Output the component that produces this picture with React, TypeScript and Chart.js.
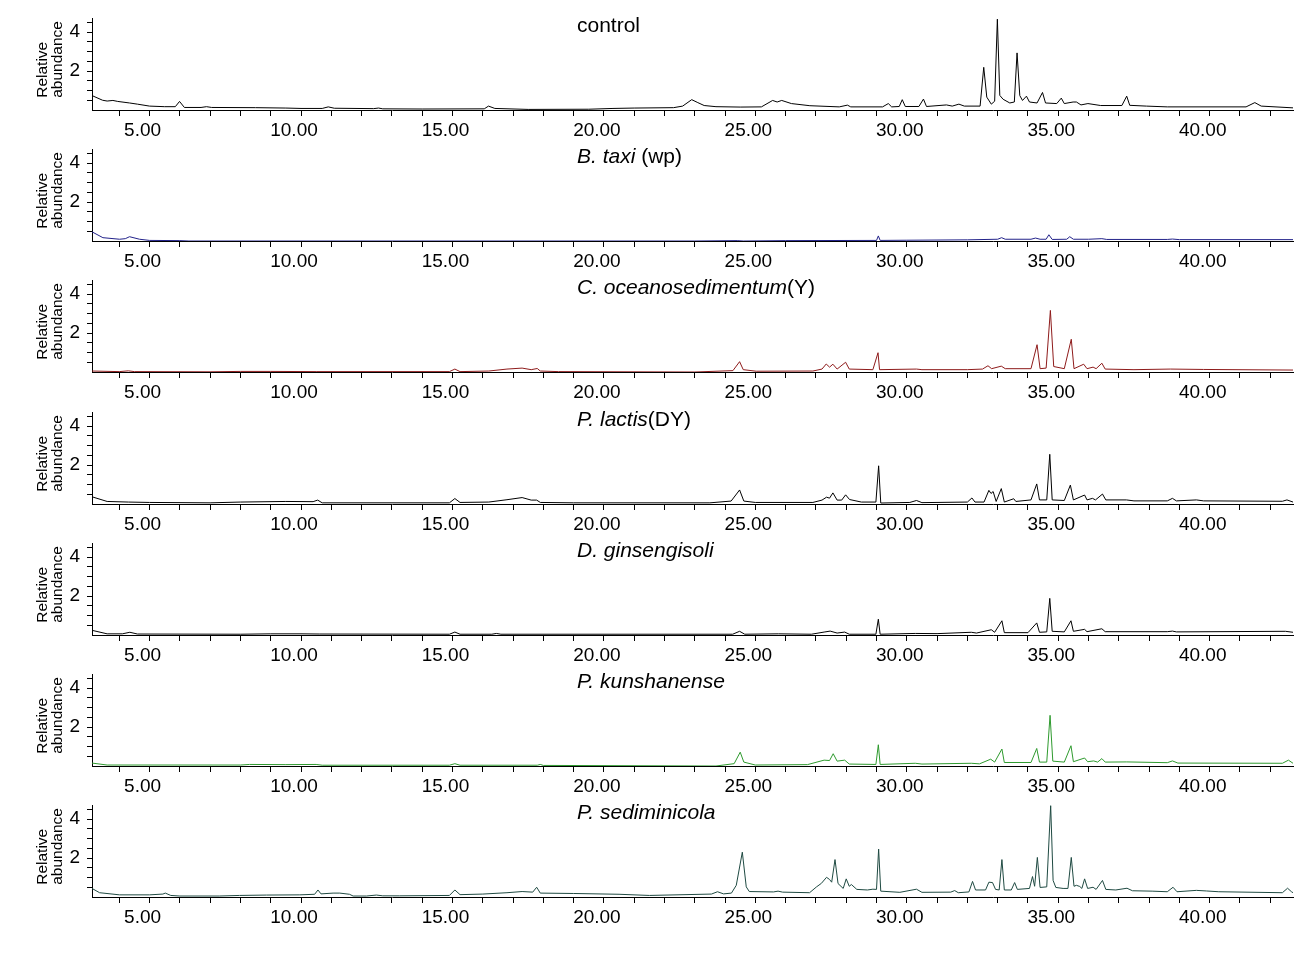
import React, { useEffect, useRef } from 'react';
import { Chart, registerables } from 'chart.js';

Chart.register(...registerables);

// ---------- data (retention time in min, relative abundance) ----------
type Pt = [number, number];

const controlTrace: Pt[] = [
  [3.10,0.74],[3.45,0.50],[3.60,0.46],[3.79,0.49],[3.95,0.44],[4.34,0.36],[4.60,0.30],[5.00,0.20],[5.50,0.17],[5.85,0.17],[5.99,0.44],[6.15,0.13],[6.70,0.13],[6.88,0.17],[7.05,0.13],[8.50,0.12],[9.50,0.10],[10.00,0.08],[10.70,0.08],[10.90,0.16],[11.10,0.09],[12.40,0.07],[12.56,0.10],[12.70,0.06],[14.00,0.05],[16.05,0.06],[16.19,0.20],[16.40,0.08],[17.50,0.03],[19.50,0.04],[20.30,0.08],[21.00,0.10],[22.30,0.12],[22.60,0.20],[22.90,0.53],[23.10,0.38],[23.31,0.23],[23.70,0.17],[24.50,0.15],[25.20,0.16],[25.57,0.49],[25.72,0.41],[25.87,0.49],[26.19,0.33],[26.80,0.22],[27.77,0.16],[28.04,0.25],[28.15,0.16],[29.20,0.16],[29.39,0.33],[29.50,0.16],[29.75,0.18],[29.85,0.53],[29.95,0.18],[30.40,0.18],[30.55,0.56],[30.65,0.18],[31.31,0.26],[31.50,0.20],[31.72,0.30],[31.90,0.20],[32.42,0.20],[32.54,2.19],[32.64,0.66],[32.79,0.30],[32.90,0.45],[32.99,4.66],[33.07,0.75],[33.18,0.55],[33.40,0.36],[33.55,0.41],[33.64,2.93],[33.73,0.74],[33.82,0.49],[33.95,0.71],[34.05,0.41],[34.30,0.36],[34.48,0.90],[34.58,0.36],[34.95,0.33],[35.10,0.61],[35.20,0.33],[35.49,0.41],[35.60,0.41],[35.75,0.26],[35.98,0.33],[36.40,0.23],[37.10,0.23],[37.26,0.71],[37.36,0.24],[37.91,0.20],[38.60,0.16],[41.20,0.16],[41.49,0.38],[41.70,0.20],[42.75,0.11],
];

const taxiTrace: Pt[] = [
  [3.10,0.47],[3.46,0.17],[4.01,0.09],[4.20,0.12],[4.34,0.22],[4.67,0.09],[5.00,0.03],[6.00,0.02],[6.30,0.00],[23.00,0.00],[24.40,0.02],[24.60,0.00],[26.00,0.02],[29.00,0.03],[29.06,0.26],[29.12,0.03],[30.00,0.04],[32.00,0.06],[33.00,0.09],[33.13,0.17],[33.25,0.09],[34.10,0.09],[34.25,0.15],[34.40,0.09],[34.60,0.09],[34.69,0.32],[34.80,0.08],[35.28,0.09],[35.38,0.22],[35.50,0.09],[36.00,0.09],[36.44,0.12],[36.60,0.08],[38.60,0.08],[38.77,0.10],[39.00,0.07],[42.75,0.07],
];

const oceanoTrace: Pt[] = [
  [3.10,0.05],[4.00,0.02],[4.30,0.06],[4.50,0.02],[7.00,0.01],[8.00,0.03],[9.00,0.03],[10.50,0.02],[14.90,0.02],[15.08,0.15],[15.25,0.02],[16.20,0.05],[16.80,0.15],[17.30,0.20],[17.60,0.12],[17.80,0.18],[17.90,0.05],[18.50,0.02],[23.00,0.00],[24.26,0.07],[24.48,0.53],[24.60,0.12],[25.03,0.04],[26.90,0.05],[27.20,0.15],[27.34,0.41],[27.45,0.25],[27.56,0.40],[27.70,0.15],[27.98,0.50],[28.10,0.15],[28.88,0.12],[29.05,0.99],[29.10,0.12],[30.32,0.15],[30.50,0.12],[32.00,0.12],[32.50,0.15],[32.68,0.32],[32.80,0.17],[33.12,0.30],[33.25,0.17],[34.10,0.17],[34.30,1.40],[34.40,0.17],[34.60,0.20],[34.74,3.16],[34.85,0.28],[35.20,0.17],[35.43,1.68],[35.52,0.17],[35.84,0.40],[35.95,0.17],[36.15,0.25],[36.25,0.17],[36.44,0.45],[36.55,0.15],[37.50,0.12],[38.70,0.15],[39.80,0.13],[42.75,0.10],
];

const lactisTrace: Pt[] = [
  [3.10,0.37],[3.60,0.13],[4.30,0.10],[5.00,0.08],[7.00,0.06],[8.00,0.10],[9.50,0.13],[10.40,0.12],[10.55,0.20],[10.70,0.06],[14.90,0.06],[15.08,0.28],[15.25,0.08],[16.20,0.10],[16.80,0.22],[17.30,0.33],[17.60,0.20],[17.78,0.20],[17.90,0.08],[19.00,0.06],[23.50,0.06],[24.20,0.15],[24.48,0.72],[24.62,0.15],[25.00,0.08],[26.90,0.08],[27.20,0.20],[27.35,0.35],[27.45,0.30],[27.56,0.57],[27.70,0.20],[27.85,0.20],[27.98,0.47],[28.11,0.23],[28.50,0.10],[28.98,0.10],[29.07,1.96],[29.14,0.05],[30.10,0.08],[30.32,0.18],[30.50,0.07],[32.00,0.10],[32.15,0.31],[32.25,0.10],[32.55,0.10],[32.71,0.70],[32.78,0.54],[32.85,0.64],[32.95,0.13],[33.12,0.79],[33.22,0.10],[33.53,0.27],[33.60,0.13],[34.10,0.21],[34.29,1.03],[34.38,0.21],[34.62,0.21],[34.72,2.55],[34.80,0.21],[35.20,0.18],[35.40,0.97],[35.50,0.21],[35.87,0.46],[35.95,0.21],[36.13,0.29],[36.23,0.21],[36.46,0.51],[36.57,0.21],[37.25,0.21],[37.50,0.16],[38.60,0.16],[38.77,0.29],[38.90,0.16],[39.56,0.21],[39.80,0.16],[42.40,0.14],[42.55,0.21],[42.75,0.10],
];

const ginsengTrace: Pt[] = [
  [3.10,0.24],[3.60,0.06],[4.10,0.06],[4.35,0.14],[4.60,0.05],[8.00,0.04],[9.00,0.06],[10.00,0.06],[10.60,0.05],[14.90,0.04],[15.08,0.15],[15.25,0.04],[16.30,0.04],[16.45,0.08],[16.60,0.04],[24.25,0.04],[24.48,0.19],[24.65,0.04],[25.76,0.06],[26.85,0.04],[27.27,0.15],[27.47,0.20],[27.70,0.10],[27.95,0.15],[28.10,0.04],[28.98,0.04],[29.06,0.81],[29.12,0.04],[30.28,0.08],[31.00,0.07],[32.13,0.14],[32.30,0.10],[32.79,0.27],[32.90,0.14],[33.14,0.73],[33.22,0.12],[34.00,0.12],[34.29,0.62],[34.38,0.14],[34.62,0.16],[34.72,1.88],[34.80,0.19],[35.20,0.16],[35.42,0.73],[35.50,0.19],[35.87,0.29],[35.95,0.17],[36.44,0.32],[36.55,0.17],[38.60,0.17],[38.77,0.20],[38.90,0.16],[42.50,0.19],[42.75,0.14],
];

const kunshanTrace: Pt[] = [
  [3.10,0.15],[3.60,0.05],[8.00,0.05],[8.30,0.08],[9.50,0.07],[10.50,0.08],[10.70,0.04],[14.90,0.04],[15.08,0.12],[15.25,0.04],[17.80,0.04],[17.90,0.08],[18.00,0.03],[23.70,0.00],[24.30,0.12],[24.50,0.71],[24.62,0.20],[25.00,0.05],[26.72,0.07],[27.27,0.30],[27.45,0.28],[27.57,0.63],[27.70,0.25],[27.95,0.30],[28.10,0.10],[28.98,0.08],[29.06,1.09],[29.12,0.08],[30.28,0.14],[30.50,0.10],[32.13,0.14],[32.40,0.11],[32.77,0.35],[32.90,0.20],[33.14,0.87],[33.22,0.18],[34.10,0.18],[34.29,0.90],[34.38,0.20],[34.62,0.20],[34.73,2.60],[34.82,0.25],[35.20,0.20],[35.42,1.04],[35.50,0.22],[35.87,0.41],[35.97,0.22],[36.17,0.26],[36.30,0.20],[36.44,0.38],[36.55,0.20],[37.26,0.21],[38.60,0.17],[38.77,0.26],[38.95,0.15],[42.40,0.14],[42.60,0.30],[42.75,0.14],
];

const sedimTrace: Pt[] = [
  [3.10,0.44],[3.35,0.22],[4.01,0.11],[5.00,0.11],[5.44,0.15],[5.52,0.20],[5.70,0.08],[6.00,0.05],[7.30,0.05],[7.97,0.08],[8.86,0.10],[9.96,0.11],[10.45,0.14],[10.56,0.36],[10.66,0.16],[11.06,0.20],[11.28,0.20],[11.60,0.14],[11.72,0.05],[12.16,0.05],[12.49,0.10],[12.70,0.06],[13.26,0.06],[14.90,0.08],[15.08,0.36],[15.25,0.12],[16.00,0.15],[16.80,0.22],[17.30,0.28],[17.65,0.25],[17.78,0.50],[17.90,0.20],[19.00,0.18],[20.50,0.14],[21.50,0.08],[23.55,0.15],[23.75,0.27],[23.95,0.16],[24.21,0.20],[24.37,0.60],[24.57,2.30],[24.70,0.52],[24.80,0.28],[25.60,0.26],[25.75,0.30],[25.90,0.25],[26.79,0.22],[27.02,0.52],[27.18,0.70],[27.35,1.01],[27.45,0.90],[27.52,0.76],[27.63,1.92],[27.73,0.69],[27.90,0.44],[28.00,0.93],[28.10,0.55],[28.17,0.64],[28.35,0.39],[28.70,0.36],[28.88,0.40],[29.00,0.39],[29.07,2.46],[29.14,0.30],[29.77,0.24],[30.32,0.40],[30.50,0.24],[31.45,0.25],[31.58,0.33],[31.70,0.22],[32.05,0.26],[32.17,0.80],[32.27,0.36],[32.60,0.36],[32.71,0.76],[32.83,0.74],[32.93,0.39],[33.05,0.36],[33.14,1.92],[33.22,0.36],[33.45,0.36],[33.56,0.74],[33.65,0.39],[34.05,0.44],[34.15,1.05],[34.22,0.55],[34.31,2.03],[34.40,0.49],[34.62,0.52],[34.75,4.70],[34.83,0.85],[34.92,0.49],[35.16,0.44],[35.32,0.44],[35.43,2.03],[35.52,0.55],[35.60,0.60],[35.71,0.54],[35.78,0.44],[35.87,0.93],[35.97,0.44],[36.15,0.50],[36.25,0.39],[36.46,0.85],[36.57,0.39],[36.90,0.36],[37.27,0.45],[37.45,0.32],[38.10,0.30],[38.60,0.27],[38.79,0.50],[38.92,0.27],[39.56,0.34],[39.89,0.31],[40.30,0.27],[42.40,0.22],[42.57,0.45],[42.70,0.27],[42.75,0.22],
];

type Seg = { text: string; italic?: boolean };
const panelTitles: Seg[][] = [
  [{ text: 'control' }],
  [{ text: 'B. taxi', italic: true }, { text: ' (wp)' }],
  [{ text: 'C. oceanosedimentum', italic: true }, { text: '(Y)' }],
  [{ text: 'P. lactis', italic: true }, { text: '(DY)' }],
  [{ text: 'D. ginsengisoli', italic: true }],
  [{ text: 'P. kunshanense', italic: true }],
  [{ text: 'P. sediminicola', italic: true }],
];
const panelTraces: Pt[][] = [controlTrace, taxiTrace, oceanoTrace, lactisTrace, ginsengTrace, kunshanTrace, sedimTrace];
const panelColors = ['#000000', '#22228a', '#8e1b1b', '#000000', '#000000', '#2e9a2e', '#1f4a42'];

const xTickValues = [4,5,6,7,8,9,10,11,12,13,14,15,16,17,18,19,20,21,22,23,24,25,26,27,28,29,30,31,32,33,34,35,36,37,38,39,40,41,42];
const xTickLabels: Record<number, string> = { 5: '5.00', 10: '10.00', 15: '15.00', 20: '20.00', 25: '25.00', 30: '30.00', 35: '35.00', 40: '40.00' };
const yTickValues = [0.5,1,1.5,2,2.5,3,3.5,4,4.5];
const yTickLabels: Record<number, string> = { 2: '2', 4: '4' };
const yAxisTitle = ['Relative', 'abundance'];

const X_MIN = 3.1;
const X_MAX = 42.75;
const Y_MIN = 0;
const Y_MAX = 4.7;

const FONT = '"Liberation Sans", Arial, sans-serif';

const panelTextPlugin = {
  id: 'panelText',
  afterDraw(chart: any, _args: any, opts: any) {
    const ctx = chart.ctx as CanvasRenderingContext2D;
    ctx.save();
    ctx.fillStyle = '#000';
    ctx.textAlign = 'left';
    ctx.textBaseline = 'alphabetic';
    let x = 577;
    for (const seg of opts.title as Seg[]) {
      ctx.font = `${seg.italic ? 'italic ' : ''}21px ${FONT}`;
      ctx.fillText(seg.text, x, 31.7);
      x += ctx.measureText(seg.text).width;
    }
    ctx.font = `15.5px ${FONT}`;
    const bases = [47.3, 61.6];
    yAxisTitle.forEach((line, i) => {
      ctx.save();
      ctx.translate(bases[i], 97.8);
      ctx.rotate(-Math.PI / 2);
      ctx.fillText(line, 0, 0);
      ctx.restore();
    });
    ctx.restore();
  },
};

function Panel({ index }: { index: number }) {
  const ref = useRef<HTMLCanvasElement>(null);
  useEffect(() => {
    if (!ref.current) return;
    const chart = new Chart(ref.current, {
      type: 'line',
      data: {
        datasets: [
          {
            data: panelTraces[index].map(([x, y]) => ({ x, y })),
            borderColor: panelColors[index],
            borderWidth: 1,
            pointRadius: 0,
            tension: 0,
            fill: false,
          },
        ],
      },
      options: {
        animation: false,
        responsive: false,
        maintainAspectRatio: false,
        layout: { padding: { top: 15, right: 7, left: 0, bottom: 0 } },
        plugins: {
          legend: { display: false },
          tooltip: { enabled: false },
          title: { display: false },
          panelText: { title: panelTitles[index] },
        } as any,
        scales: {
          x: {
            type: 'linear',
            min: X_MIN,
            max: X_MAX,
            afterBuildTicks: (s: any) => {
              s.ticks = xTickValues.map((value) => ({ value }));
            },
            afterFit: (s: any) => {
              s.height = 40;
            },
            ticks: {
              autoSkip: false,
              maxRotation: 0,
              minRotation: 0,
              padding: 3,
              labelOffset: -7,
              color: '#000',
              font: { family: FONT, size: 19 },
              callback: (v: any) => xTickLabels[v as number] ?? '',
            },
            grid: { drawOnChartArea: false, drawTicks: true, tickLength: 6, color: '#000', lineWidth: 1 },
            border: { display: true, color: '#000', width: 1 },
          },
          y: {
            type: 'linear',
            min: Y_MIN,
            max: Y_MAX,
            afterBuildTicks: (s: any) => {
              s.ticks = yTickValues.map((value) => ({ value }));
            },
            afterFit: (s: any) => {
              s.width = 92;
            },
            ticks: {
              autoSkip: false,
              padding: 7,
              color: '#000',
              font: { family: FONT, size: 19 },
              callback: (v: any) => yTickLabels[v as number] ?? '',
            },
            grid: { drawOnChartArea: false, drawTicks: true, tickLength: 5, color: '#000', lineWidth: 1 },
            border: { display: true, color: '#000', width: 1 },
          },
        },
      } as any,
      plugins: [panelTextPlugin],
    });
    return () => chart.destroy();
  }, [index]);
  return (
    <canvas
      ref={ref}
      width={1300}
      height={150}
      style={{ position: 'absolute', left: 0, top: Math.round(131.2 * index), width: 1300, height: 150 }}
    />
  );
}

export default function App() {
  return (
    <div style={{ position: 'absolute', left: 0, top: 0, width: 1300, height: 959, background: '#fff' }}>
      {panelTraces.map((_, i) => (
        <Panel key={i} index={i} />
      ))}
    </div>
  );
}
